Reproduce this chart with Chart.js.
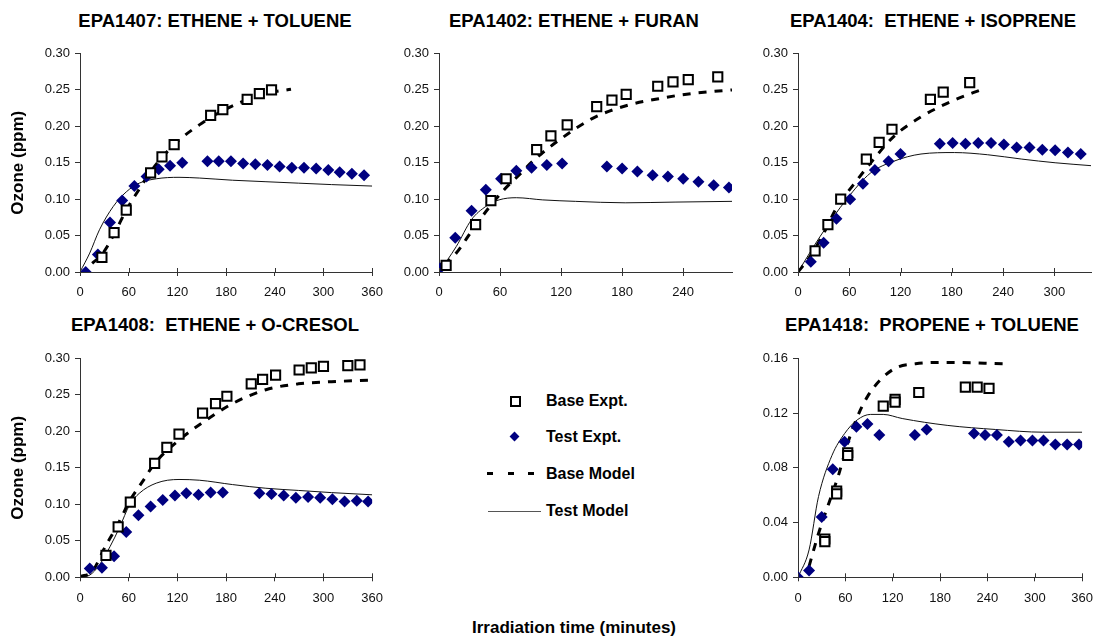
<!DOCTYPE html>
<html>
<head>
<meta charset="utf-8">
<script src="https://cdn.jsdelivr.net/npm/chart.js@4.4.1/dist/chart.umd.min.js"></script>
<style>
  body { margin: 0; background: #fff; width: 1102px; height: 639px; position: relative; overflow: hidden;
         font-family: "Liberation Sans", Arial, sans-serif; color: #000; }
  canvas { position: absolute; }
  .ttl { position: absolute; font-weight: bold; font-size: 18.5px; white-space: pre; transform: translate(-50%, -50%); }
  .lbl { position: absolute; font-weight: bold; font-size: 16px; white-space: pre; transform: translateY(-50%); }
  .xt { position: absolute; font-weight: bold; font-size: 17px; transform: translate(-50%, -50%); white-space: pre; }
  .mk { position: absolute; }
  .dash { position: absolute; top: 472px; width: 6px; height: 3px; background: #000; }
</style>
</head>
<body>
<div class="ttl" style="left:215px; top:21px">EPA1407: ETHENE + TOLUENE</div>
<div class="ttl" style="left:574px; top:21px">EPA1402: ETHENE + FURAN</div>
<div class="ttl" style="left:933px; top:21px">EPA1404:  ETHENE + ISOPRENE</div>
<div class="ttl" style="left:215px; top:325px">EPA1408:  ETHENE + O-CRESOL</div>
<div class="ttl" style="left:932px; top:325px">EPA1418:  PROPENE + TOLUENE</div>
<div class="xt" style="left:574px; top:628px">Irradiation time (minutes)</div>

<!-- legend -->
<div class="mk" style="left:510px; top:396px; width:7px; height:7px; border:2px solid #000; background:#fff"></div>
<div class="mk" style="left:511px; top:433px; width:7px; height:7px; background:#000080; transform:rotate(45deg)"></div>
<div class="dash" style="left:487px"></div>
<div class="dash" style="left:508px"></div>
<div class="dash" style="left:528px"></div>
<div class="mk" style="left:488px; top:511px; width:53px; height:0; border-top:1px solid #555"></div>
<div class="lbl" style="left:546px; top:401px">Base Expt.</div>
<div class="lbl" style="left:546px; top:437px">Test Expt.</div>
<div class="lbl" style="left:546px; top:474px">Base Model</div>
<div class="lbl" style="left:546px; top:511px">Test Model</div>

<canvas id="c1407"></canvas>
<canvas id="c1402"></canvas>
<canvas id="c1404"></canvas>
<canvas id="c1408"></canvas>
<canvas id="c1418"></canvas>

<script>
// ---- data: [minutes, ozone ppm] ----
const e1407BaseExpt = [[27,0.020],[42,0.054],[57,0.085],[87,0.136],[101,0.158],[116,0.175],[161,0.215],[176,0.223],[206,0.237],[221,0.245],[236,0.250]];
const e1407TestExpt = [[7,0],[22,0.024],[37,0.068],[52,0.098],[67,0.118],[82,0.131],[97,0.141],[111,0.146],[126,0.150],[157,0.152],[171,0.152],[186,0.152],[201,0.149],[216,0.148],[231,0.147],[246,0.145],[261,0.143],[276,0.143],[291,0.142],[306,0.140],[320,0.137],[335,0.135],[350,0.133]];
const e1407BaseModel = [[15,0.012],[27,0.024],[42,0.052],[57,0.085],[72,0.112],[86,0.136],[100,0.156],[122,0.181],[147,0.202],[170,0.218],[196,0.232],[229,0.245],[260,0.251]];
const e1407TestModel = [[0,0],[12,0.026],[24,0.058],[41,0.090],[57,0.110],[73,0.122],[94,0.128],[122,0.130],[147,0.129],[188,0.126],[228,0.124],[269,0.122],[310,0.120],[360,0.118]];

const e1402BaseExpt = [[7,0.009],[36,0.065],[51,0.098],[66,0.128],[96,0.168],[110,0.187],[126,0.202],[155,0.227],[170,0.236],[184,0.244],[215,0.255],[230,0.261],[245,0.264],[274,0.268]];
const e1402TestExpt = [[1,0.005],[16,0.047],[32,0.084],[46,0.113],[61,0.128],[76,0.139],[91,0.143],[106,0.147],[121,0.149],[165,0.145],[180,0.142],[195,0.138],[210,0.133],[225,0.131],[240,0.128],[255,0.124],[270,0.119],[285,0.116]];
const e1402BaseModel = [[5,0.010],[17,0.026],[33,0.058],[50,0.090],[64,0.113],[80,0.135],[92,0.152],[118,0.181],[151,0.211],[183,0.228],[216,0.238],[248,0.245],[288,0.250]];
const e1402TestModel = [[0,0],[17,0.035],[32,0.072],[46,0.090],[59,0.099],[76,0.102],[102,0.099],[134,0.097],[183,0.095],[232,0.096],[288,0.097]];

const e1404BaseExpt = [[20,0.029],[35,0.065],[50,0.100],[80,0.155],[95,0.178],[110,0.196],[155,0.237],[170,0.247],[201,0.260]];
const e1404TestExpt = [[15,0.014],[30,0.040],[45,0.073],[61,0.100],[76,0.121],[90,0.140],[106,0.152],[120,0.162],[166,0.176],[181,0.177],[196,0.176],[211,0.177],[226,0.177],[241,0.175],[256,0.171],[271,0.171],[286,0.168],[301,0.167],[316,0.164],[331,0.162]];
const e1404BaseModel = [[0,0],[14,0.021],[30,0.053],[45,0.088],[65,0.120],[88,0.154],[112,0.186],[144,0.213],[183,0.236],[216,0.251]];
const e1404TestModel = [[0,0],[26,0.049],[57,0.100],[85,0.136],[112,0.152],[144,0.162],[183,0.164],[222,0.161],[262,0.155],[301,0.150],[343,0.146]];

const e1408BaseExpt = [[32,0.030],[47,0.069],[62,0.103],[92,0.156],[107,0.178],[122,0.196],[151,0.225],[167,0.238],[181,0.248],[211,0.265],[225,0.271],[241,0.277],[270,0.284],[285,0.287],[300,0.289],[330,0.290],[345,0.291]];
const e1408TestExpt = [[12,0.012],[27,0.013],[42,0.029],[57,0.062],[72,0.085],[87,0.097],[102,0.106],[117,0.112],[131,0.115],[146,0.113],[161,0.116],[176,0.116],[221,0.115],[236,0.114],[251,0.112],[266,0.109],[281,0.110],[296,0.109],[311,0.107],[326,0.104],[341,0.105],[355,0.104]];
const e1408BaseModel = [[0,0.001],[15,0.008],[32,0.044],[45,0.069],[62,0.106],[77,0.131],[92,0.156],[122,0.188],[155,0.215],[188,0.238],[229,0.257],[269,0.265],[310,0.268],[360,0.270]];
const e1408TestModel = [[0,0],[12,0.003],[24,0.017],[37,0.042],[49,0.069],[61,0.099],[73,0.115],[94,0.129],[122,0.134],[147,0.133],[188,0.127],[229,0.122],[269,0.119],[310,0.116],[360,0.113]];

const e1418BaseExpt = [[34,0.028],[34,0.026],[49,0.063],[49,0.061],[63,0.091],[63,0.089],[108,0.125],[123,0.130],[123,0.128],[153,0.135],[212,0.139],[227,0.139],[242,0.138]];
const e1418TestExpt = [[0,0],[14,0.005],[30,0.044],[44,0.079],[59,0.099],[74,0.110],[88,0.112],[103,0.104],[148,0.104],[163,0.108],[223,0.105],[237,0.104],[252,0.104],[267,0.099],[282,0.100],[297,0.100],[311,0.100],[326,0.097],[341,0.097],[356,0.097]];
const e1418BaseModel = [[14,0.008],[26,0.032],[39,0.054],[51,0.074],[63,0.098],[75,0.117],[88,0.132],[104,0.144],[124,0.153],[149,0.156],[189,0.157],[260,0.156]];
const e1418TestModel = [[0,0],[14,0.020],[26,0.059],[43,0.089],[59,0.105],[75,0.115],[92,0.119],[108,0.119],[132,0.116],[189,0.111],[250,0.108],[311,0.106],[360,0.106]];

const xStep = 60;
const ozoneTicks = { step: 0.05, max: 0.30 };
const ozoneTicks1418 = { step: 0.04, max: 0.16 };

const AXIS = '#333';
const pts = arr => arr.map(p => ({ x: p[0], y: p[1] }));

// inner half of the x tick marks (Excel "cross" ticks)
const crossTicks = {
    id: 'crossTicks',
    afterDatasetsDraw(chart) {
        const sx = chart.scales.x, ctx = chart.ctx;
        ctx.save();
        ctx.strokeStyle = AXIS;
        ctx.lineWidth = 1;
        sx.ticks.forEach((t, i) => {
            const px = Math.round(sx.getPixelForTick(i)) + 0.5;
            ctx.beginPath();
            ctx.moveTo(px, sx.top);
            ctx.lineTo(px, sx.top - 4);
            ctx.stroke();
        });
        ctx.restore();
    }
};

function makePanel(id, box, area, series, xMax, yt, showYTitle) {
    const cv = document.getElementById(id);
    cv.width = box.w; cv.height = box.h;
    cv.style.left = box.x + 'px'; cv.style.top = box.y + 'px';
    return new Chart(cv, {
        type: 'scatter',
        data: {
            datasets: [
                { label: 'Base Expt.', data: pts(series[0]), showLine: false, pointStyle: 'rect', pointRadius: 6.5,
                  borderWidth: 2, borderColor: '#000', backgroundColor: '#fff', order: 1 },
                { label: 'Test Expt.', data: pts(series[1]), showLine: false, pointStyle: 'rectRot', pointRadius: 6,
                  borderWidth: 0, borderColor: '#000080', backgroundColor: '#000080', order: 2 },
                { label: 'Base Model', data: pts(series[2]), showLine: true, pointRadius: 0, borderColor: '#000',
                  borderWidth: 3, borderDash: [8, 8], cubicInterpolationMode: 'monotone', order: 3 },
                { label: 'Test Model', data: pts(series[3]), showLine: true, pointRadius: 0, borderColor: '#111',
                  borderWidth: 1, cubicInterpolationMode: 'monotone', order: 4 }
            ]
        },
        options: {
            responsive: false,
            animation: false,
            events: [],
            layout: { padding: { top: area.t - box.y, right: box.x + box.w - area.r, left: 0, bottom: 0 } },
            plugins: { legend: { display: false }, tooltip: { enabled: false } },
            scales: {
                x: {
                    type: 'linear', min: 0, max: xMax,
                    border: { color: AXIS, width: 1 },
                    grid: { drawOnChartArea: false, color: AXIS, tickLength: 4 },
                    ticks: { stepSize: xStep, includeBounds: false, padding: 9, color: '#111',
                             font: { family: '"Liberation Sans", Arial', size: 13 } },
                    afterFit: s => { s.height = box.y + box.h - area.b; }
                },
                y: {
                    min: 0, max: yt.max,
                    border: { color: AXIS, width: 1 },
                    grid: { drawOnChartArea: false, color: AXIS, tickLength: 5 },
                    ticks: { stepSize: yt.step, padding: 5, color: '#111',
                             font: { family: '"Liberation Sans", Arial', size: 13 },
                             callback: v => v.toFixed(2) },
                    title: { display: showYTitle, text: 'Ozone (ppm)', color: '#000', padding: { top: 8, bottom: 0 },
                             font: { family: '"Liberation Sans", Arial', size: 17, weight: 'bold' } },
                    afterFit: s => { s.width = area.l - box.x; }
                }
            }
        },
        plugins: [crossTicks]
    });
}

makePanel('c1407', { x: 0, y: 40, w: 392, h: 265 }, { l: 80, t: 53.5, r: 374, b: 272 },
    [e1407BaseExpt, e1407TestExpt, e1407BaseModel, e1407TestModel], 360, ozoneTicks, true);
makePanel('c1402', { x: 380, y: 40, w: 372, h: 265 }, { l: 439, t: 53.5, r: 732, b: 272 },
    [e1402BaseExpt, e1402TestExpt, e1402BaseModel, e1402TestModel], 288, ozoneTicks, false);
makePanel('c1404', { x: 740, y: 40, w: 362, h: 265 }, { l: 798, t: 53.5, r: 1091, b: 272 },
    [e1404BaseExpt, e1404TestExpt, e1404BaseModel, e1404TestModel], 343, ozoneTicks, false);
makePanel('c1408', { x: 0, y: 345, w: 392, h: 265 }, { l: 80, t: 358.3, r: 374, b: 577.3 },
    [e1408BaseExpt, e1408TestExpt, e1408BaseModel, e1408TestModel], 360, ozoneTicks, true);
makePanel('c1418', { x: 740, y: 345, w: 362, h: 265 }, { l: 798, t: 358.3, r: 1091, b: 577.3 },
    [e1418BaseExpt, e1418TestExpt, e1418BaseModel, e1418TestModel], 360, ozoneTicks1418, false);
</script>
</body>
</html>
